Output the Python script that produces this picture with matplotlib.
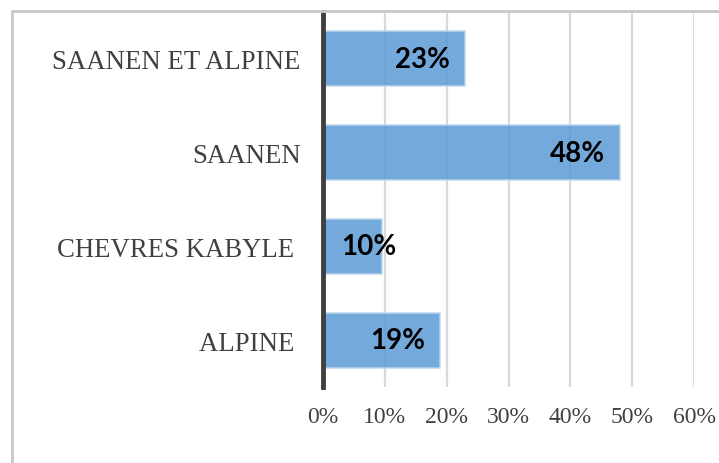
import matplotlib
matplotlib.use('Agg')
import matplotlib.pyplot as plt
from matplotlib.patches import Rectangle
from matplotlib.ticker import FuncFormatter

# breeds, bottom to top as drawn
breeds = ['ALPINE ', 'CHEVRES KABYLE ', 'SAANEN', 'SAANEN ET ALPINE']
shares = [19, 9.5, 48, 23]
bar_labels = ['19%', '10%', '48%', '23%']
xticks = [0, 10, 20, 30, 40, 50, 60]

fig = plt.figure(figsize=(7.19, 4.64), dpi=100)
ax = fig.add_axes([323/719, 1 - 388/464, (694 - 323)/719, (388 - 13)/464])

# outer chart border (right and bottom run off the picture)
fig.patches.append(Rectangle((12/719, -0.1), 1.2, 1 - 12/464 + 0.1,
                             transform=fig.transFigure, fill=False,
                             edgecolor='#c8c8c8', linewidth=2, zorder=0))

ax.barh(range(len(breeds)), shares, height=0.585, color='#5b9bd5', alpha=0.85,
        edgecolor='#bdd7ee', linewidth=1.2, zorder=3)

for i, (v, lab) in enumerate(zip(shares, bar_labels)):
    if v < 15:
        ax.annotate(lab, (0, i), xytext=(13, 0), textcoords='offset points',
                    ha='left', va='center', fontsize=20, fontweight='bold',
                    family=['Lato', 'DejaVu Sans'], color='black', zorder=4)
    else:
        ax.annotate(lab, (v, i), xytext=(-11, 0), textcoords='offset points',
                    ha='right', va='center', fontsize=20, fontweight='bold',
                    family=['Lato', 'DejaVu Sans'], color='black', zorder=4)

ax.set_xlim(0, 60)
ax.set_ylim(-0.5, 3.5)
ax.set_xticks(xticks)
ax.xaxis.set_major_formatter(FuncFormatter(lambda x, pos: '{:.0f}%'.format(x)))
ax.set_yticks(range(len(breeds)))
ax.set_yticklabels(breeds)

ax.grid(axis='x', color='#d9d9d9', linewidth=1.6, zorder=1)
ax.set_axisbelow(True)
for s in ['top', 'right', 'bottom']:
    ax.spines[s].set_visible(False)
ax.spines['left'].set_color('#404040')
ax.spines['left'].set_linewidth(3.5)
ax.spines['left'].set_zorder(5)

ax.tick_params(axis='both', length=0, colors='#404040')
ax.tick_params(axis='x', pad=14, labelsize=17)
ax.tick_params(axis='y', pad=16, labelsize=19.3)
for t in ax.get_xticklabels() + ax.get_yticklabels():
    t.set_family(['Liberation Serif', 'DejaVu Serif'])

fig.savefig('out.png', dpi=100)
